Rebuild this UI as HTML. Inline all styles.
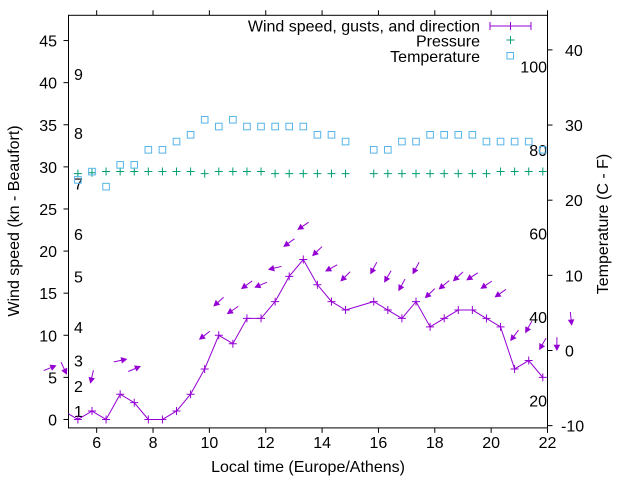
<!DOCTYPE html>
<html><head><meta charset="utf-8"><style>
html,body{margin:0;padding:0;background:#fff;}
svg{display:block;font-family:"Liberation Sans",Arial,sans-serif;}
</style></head><body>
<svg id="chart" width="640" height="480" viewBox="0 0 640 480" xmlns="http://www.w3.org/2000/svg">
<defs><clipPath id="plotclip"><rect x="68.5" y="15.3" width="479" height="412.6"/></clipPath></defs>
<rect x="0" y="0" width="640" height="480" fill="#fff"/>
<g id="axes"></g>
<g id="beaufort"></g>
<g id="fahr"></g>
<g id="series"></g>
<text x="308" y="472" font-size="16" text-anchor="middle">Local time (Europe/Athens)</text>
<text transform="translate(19,221) rotate(-90)" font-size="16" text-anchor="middle">Wind speed (kn - Beaufort)</text>
<text transform="translate(608,224) rotate(-90)" font-size="16" text-anchor="middle">Temperature (C - F)</text>
<g>
  <text x="480" y="31.5" font-size="16" text-anchor="end">Wind speed, gusts, and direction</text>
  <g stroke="#9400d3" stroke-width="1">
    <line x1="490" y1="26" x2="531" y2="26"/><line x1="490" y1="22" x2="490" y2="30"/><line x1="531" y1="22" x2="531" y2="30"/>
    <line x1="510.5" y1="22" x2="510.5" y2="30"/>
  </g>
  <text x="480" y="46.5" font-size="16" text-anchor="end">Pressure</text>
  <g stroke="#009e73" stroke-width="1"><line x1="506.5" y1="40" x2="514.5" y2="40"/><line x1="510.5" y1="36" x2="510.5" y2="44"/></g>
  <text x="480" y="62" font-size="16" text-anchor="end">Temperature</text>
  <rect x="507" y="52.5" width="6.5" height="6.5" fill="none" stroke="#56b4e9" stroke-width="1"/>
</g>
</svg>
<script>
const times = ["04:20","04:50","05:20","05:50","06:20","06:50","07:20","07:50","08:20","08:50","09:20","09:50","10:20","10:50","11:20","11:50","12:20","12:50","13:20","13:50","14:20","14:50","15:20","15:50","16:20","16:50","17:20","17:50","18:20","18:50","19:20","19:50","20:20","20:50","21:20","21:50","22:20","22:50"];
const windSpeed = [null,1,0,1,0,3,2,0,0,1,3,6,10,9,12,12,14,17,19,16,14,13,null,14,13,12,14,11,12,13,13,12,11,6,7,5,null,null];
const gustSpeed = [6.1,6.1,null,5.1,null,7,6,null,null,null,null,10,14,13,16,16,18,21,23,20,18,17,null,18,17,16,18,15,16,17,17,16,15,10,11,9,9,12];
const arrowAngle = [22,-65,null,-103,null,12,23,null,null,null,null,-142,-138,-146,-144,-157,-167,-144,-146,-136,-151,-135,null,-118,-120,-119,-118,-136,-140,-137,-147,-146,-145,-127,-119,-120,-90,-84];
const pressure = [null,null,29.2,29.3,29.45,29.45,29.45,29.45,29.45,29.45,29.45,29.2,29.45,29.45,29.45,29.45,29.2,29.2,29.2,29.2,29.2,29.2,null,29.2,29.2,29.2,29.2,29.2,29.2,29.2,29.2,29.2,29.45,29.45,29.45,29.45,null,null];
const temperature = [null,null,22.7,23.8,21.8,24.7,24.7,26.7,26.7,27.8,28.7,30.7,29.8,30.7,29.8,29.8,29.8,29.8,29.8,28.7,28.7,27.8,null,26.7,26.7,27.8,27.8,28.7,28.7,28.7,28.7,27.8,27.8,27.8,27.8,26.7,null,null];
const xTicks = [6,8,10,12,14,16,18,20,22];
const yTicks = [0,5,10,15,20,25,30,35,40,45];
const y2Ticks = [-10,0,10,20,30,40];
const beaufortKn = [1,4,7,11,17,22,28,34,41];
const beaufortLabels = ["1","2","3","4","5","6","7","8","9"];
const fahrenheitTicks = [20,40,60,80,100];

const L=68.5,R=547.5,T=15.3,B=427.9;
const X0=5,X1=22,Y0=-1,Y1=48,Y2lo=-10.3,Y2hi=44.6;
const NS="http://www.w3.org/2000/svg";
function xs(h){return L+(h-X0)/(X1-X0)*(R-L);}
function ys(v){return B-(v-Y0)/(Y1-Y0)*(B-T);}
function y2s(c){return B-(c-Y2lo)/(Y2hi-Y2lo)*(B-T);}
function hrs(s){const p=s.split(":");return +p[0]+ +p[1]/60;}
function mk(tag,attrs,parent){const e=document.createElementNS(NS,tag);for(const k in attrs)e.setAttribute(k,attrs[k]);parent.appendChild(e);return e;}

const axes=document.getElementById('axes');
const frame=mk('rect',{x:L,y:T,width:R-L,height:B-T,fill:'none',stroke:'#000','stroke-width':1},axes);


xTicks.forEach(t=>{
  const x=xs(t);
  const tk=mk('path',{d:`M${x},${B}v5M${x},${T}v-5`,stroke:'#000','stroke-width':1},axes);
  
  
  const lb=mk('text',{x:x,y:B+20,'font-size':16,'text-anchor':'middle'},axes);
  lb.textContent=t;
  
  
});
yTicks.forEach(v=>{
  const y=ys(v);
  const tk=mk('path',{d:`M${L},${y}h-5`,stroke:'#000','stroke-width':1},axes);
  
  
  const lb=mk('text',{x:57,y:y+6,'font-size':16,'text-anchor':'end'},axes);
  lb.textContent=v;
  
  
});
y2Ticks.forEach(v=>{
  const y=y2s(v);
  const tk=mk('path',{d:`M${R},${y}h5`,stroke:'#000','stroke-width':1},axes);
  
  
  const lb=mk('text',{x:v<0?561:565,y:y+6,'font-size':16,'text-anchor':'start'},axes);
  lb.textContent=v;
  
  
});
const bg=document.getElementById('beaufort');
beaufortKn.forEach((k,i)=>{
  const lb=mk('text',{x:74,y:ys(k)+6,'font-size':16},bg);
  lb.textContent=beaufortLabels[i];
  
  
});
const fg=document.getElementById('fahr');
fahrenheitTicks.forEach(f=>{
  const c=(f-32)*5/9;
  const lb=mk('text',{x:547,y:y2s(c)+6,'font-size':16,'text-anchor':'end'},fg);
  lb.textContent=f;
  
  
});

const sg=document.getElementById('series');
const clipG=mk('g',{'clip-path':'url(#plotclip)'},sg);


let d='',pen=false;
windSpeed.forEach((v,i)=>{
  if(v===null)return;
  d+=(pen?'L':'M')+xs(hrs(times[i]))+','+ys(v);pen=true;
});
const wl=mk('path',{d:d,fill:'none',stroke:'#9400d3','stroke-width':1},clipG);


windSpeed.forEach((v,i)=>{
  if(v===null)return;
  const x=xs(hrs(times[i])),y=ys(v);
  const p=mk('path',{d:`M${x-4},${y}h8M${x},${y-4}v8`,stroke:'#9400d3','stroke-width':1},clipG);
  
  
});
pressure.forEach((v,i)=>{
  if(v===null)return;
  const x=xs(hrs(times[i])),y=ys(v);
  const p=mk('path',{d:`M${x-4},${y}h8M${x},${y-4}v8`,stroke:'#009e73','stroke-width':1},clipG);
  
  
});
temperature.forEach((v,i)=>{
  if(v===null)return;
  const x=xs(hrs(times[i])),y=y2s(v);
  const r=mk('rect',{x:x-3.3,y:y-3.3,width:6.6,height:6.6,fill:'none',stroke:'#56b4e9','stroke-width':1},clipG);
  
  
});
gustSpeed.forEach((g,i)=>{
  if(g===null||arrowAngle[i]===null)return;
  const cx=xs(hrs(times[i])),cy=ys(g);
  const a=arrowAngle[i]*Math.PI/180,len=13;
  const ux=Math.cos(a),uy=-Math.sin(a);
  const tx=cx-ux*len/2,ty=cy-uy*len/2,hx=cx+ux*len/2,hy=cy+uy*len/2;
  const hl=5,hw=2.6;
  const bx=hx-ux*hl,by=hy-uy*hl;
  const grp=mk('g',{},sg);
  
  
  mk('line',{x1:tx,y1:ty,x2:bx,y2:by,stroke:'#9400d3','stroke-width':1},grp);
  mk('polygon',{points:`${hx},${hy} ${bx-uy*hw},${by+ux*hw} ${bx+uy*hw},${by-ux*hw}`,fill:'#9400d3',stroke:'#9400d3','stroke-width':0.8},grp);
});
</script>
</body></html>
